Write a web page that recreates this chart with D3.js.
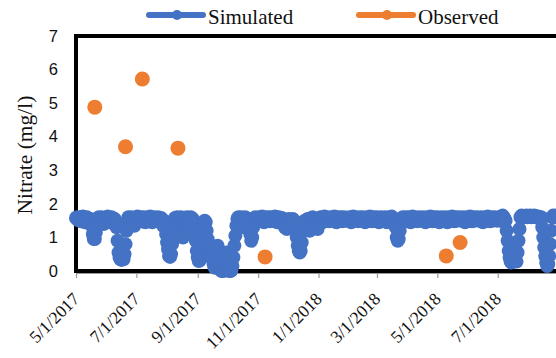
<!DOCTYPE html>
<html>
<head>
<meta charset="utf-8">
<script src="https://cdn.jsdelivr.net/npm/d3@7"></script>
<style>
  html, body { margin: 0; padding: 0; background: #fff; }
  svg { display: block; }
</style>
</head>
<body>
<script>
// Daily simulated nitrate (mg/l), starting 2017-05-01
const simStart = "2017-05-01";
const simulated = [
  // May 2017
  1.58,1.6,1.52,1.55,1.6,1.48,1.55,1.62,1.5,1.45,
  1.55,1.6,1.5,1.42,1.55,1.5,1.35,1.1,0.95,0.95,
  1.15,1.4,1.55,1.6,1.45,1.5,1.6,1.55,1.4,1.5,1.58,
  // Jun 2017
  1.55,1.62,1.5,1.45,1.58,1.6,1.52,1.48,1.55,1.5,
  1.3,0.9,0.55,0.4,0.35,0.33,0.38,0.35,0.5,0.8,
  1.2,1.5,1.6,1.55,1.48,1.6,1.55,1.5,1.35,1.45,
  // Jul 2017
  1.58,1.62,1.5,1.55,1.6,1.48,1.55,1.6,1.52,1.45,
  1.55,1.6,1.5,1.55,1.62,1.5,1.45,1.55,1.6,1.5,
  1.55,1.48,1.6,1.55,1.5,1.58,1.45,1.35,1.5,1.3,1.1,
  // Aug 2017
  0.85,0.65,0.45,0.42,0.5,0.8,1.2,1.5,1.58,1.5,
  1.6,1.15,1.5,1.55,1.6,1.48,1.0,1.5,1.58,1.55,
  1.6,1.2,1.5,1.55,1.6,1.5,1.55,1.45,1.2,0.9,0.6,
  // Sep 2017
  0.4,0.3,0.32,0.5,0.8,1.1,1.35,1.5,1.45,1.2,
  0.95,0.75,0.6,0.55,0.5,0.35,0.2,0.1,0.3,0.6,
  0.75,0.5,0.2,0.05,0.0,0.02,0.0,0.1,0.35,0.55,
  // Oct 2017
  0.3,0.05,0.0,0.0,0.02,0.15,0.4,0.75,1.05,1.35,
  1.55,1.6,1.5,1.45,1.6,1.55,1.3,1.5,1.6,1.55,
  1.5,1.3,1.45,1.1,0.9,1.0,1.3,1.5,1.6,1.55,1.5,
  // Nov 2017
  1.58,1.6,1.5,1.55,1.62,1.5,1.45,1.55,1.6,1.52,
  1.55,1.6,1.48,1.55,1.6,1.5,1.55,1.62,1.5,1.45,
  1.55,1.6,1.5,1.55,1.58,1.45,1.5,1.3,1.5,1.25,
  // Dec 2017
  1.5,1.55,1.3,1.5,1.45,1.55,1.5,1.4,1.3,1.0,
  0.75,0.6,0.55,0.6,0.85,1.2,1.45,1.5,1.25,1.5,
  1.55,1.45,1.2,1.5,1.55,1.6,1.5,1.3,1.5,1.55,1.25,
  // Jan 2018
  1.5,1.55,1.6,1.5,1.45,1.58,1.62,1.5,1.55,1.6,
  1.52,1.48,1.55,1.6,1.5,1.55,1.62,1.5,1.45,1.55,
  1.6,1.5,1.55,1.6,1.48,1.55,1.6,1.52,1.5,1.58,1.55,
  // Feb 2018
  1.6,1.5,1.45,1.55,1.62,1.5,1.55,1.6,1.5,1.48,
  1.55,1.6,1.52,1.55,1.6,1.5,1.45,1.55,1.6,1.5,
  1.55,1.62,1.5,1.48,1.55,1.6,1.5,1.55,
  // Mar 2018
  1.6,1.5,1.45,1.55,1.6,1.52,1.5,1.58,1.6,1.5,
  1.45,1.55,1.6,1.5,1.55,1.62,1.5,1.45,1.4,1.3,
  1.0,0.9,0.95,1.2,1.45,1.55,1.6,1.5,1.55,1.6,1.5,
  // Apr 2018
  1.55,1.6,1.5,1.45,1.55,1.62,1.5,1.55,1.6,1.5,
  1.48,1.55,1.6,1.52,1.5,1.58,1.6,1.5,1.45,1.55,
  1.6,1.5,1.55,1.62,1.5,1.48,1.55,1.6,1.5,1.55,
  // May 2018
  1.6,1.5,1.45,1.55,1.6,1.52,1.5,1.58,1.6,1.5,
  1.45,1.55,1.6,1.5,1.55,1.62,1.5,1.48,1.55,1.6,
  1.5,1.55,1.6,1.52,1.5,1.58,1.6,1.5,1.45,1.55,1.6,
  // Jun 2018
  1.5,1.55,1.62,1.5,1.48,1.55,1.6,1.5,1.55,1.6,
  1.52,1.5,1.58,1.6,1.5,1.45,1.55,1.6,1.5,1.55,
  1.62,1.5,1.48,1.55,1.6,1.5,1.55,1.6,1.52,1.5,
  // Jul 2018
  1.58,1.6,1.5,1.55,1.62,1.65,1.6,1.55,1.5,1.2,
  0.9,0.6,0.4,0.28,0.25,0.45,0.75,0.5,0.3,0.28,
  0.55,0.9,1.25,1.6,1.65,1.62,1.6,1.64,1.62,1.65,1.6,
  // Aug 2018
  1.63,1.62,1.65,1.6,1.63,1.62,1.65,1.6,1.62,1.6,
  1.62,1.6,1.55,1.6,1.3,1.0,0.7,0.45,0.25,0.15,
  0.2,0.45,0.8,1.2,1.6,1.65,1.6,1.62,1.65,1.6,1.62
];

// Observed grab samples
const obsDates = ["2017-05-20","2017-06-20","2017-07-07","2017-08-12","2017-11-08","2018-05-10","2018-05-24"];
const observed = [4.88, 3.70, 5.72, 3.66, 0.42, 0.45, 0.85];

const xTickLabels = ["5/1/2017","7/1/2017","9/1/2017","11/1/2017","1/1/2018","3/1/2018","5/1/2018","7/1/2018"];
const yTicks = [0,1,2,3,4,5,6,7];

const seriesNames = ["Simulated","Observed"];
const seriesColors = ["#4472C4","#ED7D31"];

const W = 556, H = 358;
const parseISO = d3.timeParse("%Y-%m-%d");
const parseUS = d3.timeParse("%m/%d/%Y");

const x = d3.scaleTime()
  .domain([parseISO("2017-05-01"), parseISO("2018-10-31")])
  .range([76, 618.5]);
const y = d3.scaleLinear().domain([0, 7]).range([271, 36]);

const svg = d3.select("body").append("svg")
  .attr("width", W).attr("height", H);

const serif = "'Liberation Serif','Times New Roman',serif";
const sans = "'Liberation Sans',Arial,sans-serif";

// x axis line and tick marks
const xAxis = svg.append("g")
  .attr("transform", "translate(0,273)")
  .call(d3.axisBottom(x)
    .tickValues(xTickLabels.map(parseUS))
    .tickFormat((d, i) => xTickLabels[i])
    .tickSize(5)
    .tickSizeOuter(0));
xAxis.select(".domain").attr("stroke", "#9a9a9a").attr("stroke-width", 1.2);
xAxis.selectAll(".tick line").attr("stroke", "#9a9a9a").attr("stroke-width", 1.2);
xAxis.selectAll(".tick text")
  .attr("x", 0).attr("y", 0).attr("dy", 0)
  .attr("transform", "translate(4,27) rotate(-45)")
  .style("text-anchor", "end")
  .style("font-family", serif)
  .style("font-size", "17.5px")
  .attr("fill", "#111");

// y axis labels
const yAxis = svg.append("g")
  .attr("transform", "translate(76,0)")
  .call(d3.axisLeft(y).tickValues(yTicks).tickFormat(d3.format("d")).tickSize(0).tickPadding(18));
yAxis.select(".domain").remove();
yAxis.selectAll(".tick text")
  .style("font-family", sans)
  .style("font-size", "16.5px")
  .attr("fill", "#111");

// plot-area frame
svg.append("rect")
  .attr("x", x.range()[0]).attr("y", y(7))
  .attr("width", x.range()[1] - x.range()[0])
  .attr("height", y(0) - y(7))
  .attr("fill", "none")
  .attr("stroke", "#000")
  .attr("stroke-width", 4);

// y axis title
svg.append("text")
  .attr("transform", "translate(32,155) rotate(-90)")
  .attr("text-anchor", "middle")
  .style("font-family", serif)
  .style("font-size", "21.5px")
  .attr("fill", "#111")
  .text("Nitrate (mg/l)");

// simulated series
const start = parseISO(simStart);
const simData = simulated.map((v, i) => ({ date: d3.timeDay.offset(start, i), value: v }));
svg.append("g").selectAll("circle")
  .data(simData)
  .join("circle")
  .attr("cx", d => x(d.date))
  .attr("cy", d => y(d.value))
  .attr("r", 7)
  .attr("fill", seriesColors[0]);

// observed series
const obsData = obsDates.map((d, i) => ({ date: parseISO(d), value: observed[i] }));
svg.append("g").selectAll("circle")
  .data(obsData)
  .join("circle")
  .attr("cx", d => x(d.date))
  .attr("cy", d => y(d.value))
  .attr("r", 7.5)
  .attr("fill", seriesColors[1]);

// legend
const legendItems = [
  { name: seriesNames[0], color: seriesColors[0], x0: 147 },
  { name: seriesNames[1], color: seriesColors[1], x0: 357 }
];
const lg = svg.append("g").selectAll("g").data(legendItems).join("g")
  .attr("transform", d => `translate(${d.x0},0)`);
lg.append("line")
  .attr("x1", 2).attr("x2", 56).attr("y1", 15).attr("y2", 15)
  .attr("stroke", d => d.color).attr("stroke-width", 6)
  .attr("stroke-linecap", "round");
lg.append("circle")
  .attr("cx", 30).attr("cy", 15).attr("r", 5)
  .attr("fill", d => d.color);
lg.append("text")
  .attr("x", 61).attr("y", 24)
  .style("font-family", serif)
  .style("font-size", "21px")
  .attr("fill", "#111")
  .text(d => d.name);
</script>
</body>
</html>
